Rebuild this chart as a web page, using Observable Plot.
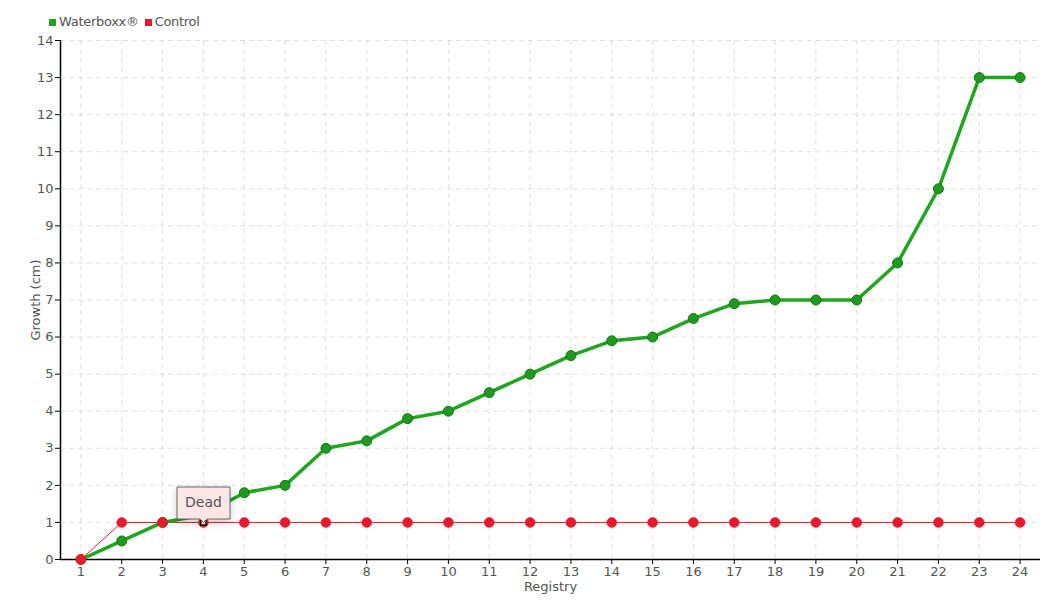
<!DOCTYPE html>
<html><head><meta charset="utf-8">
<script src="https://cdn.jsdelivr.net/npm/d3@7"></script>
<script src="https://cdn.jsdelivr.net/npm/@observablehq/plot@0.6"></script>
<style>
body{margin:0;background:#fff;font-family:"DejaVu Sans",sans-serif;}
#legend{height:32px;display:flex;align-items:center;padding-left:49px;font-size:13px;letter-spacing:-0.3px;color:#555;gap:6px;padding-top:10px;box-sizing:border-box}
#legend span.sw{display:inline-block;width:7px;height:7px;margin-right:3px;vertical-align:middle}
</style></head><body>
<div id="legend"><span><span class="sw" style="background:#1fa01f"></span>Waterboxx®</span><span><span class="sw" style="background:#e8192c"></span>Control</span></div>
<div id="chart"></div>
<script>
const registry = d3.range(1, 25);
const waterboxx = [0,0.5,1,1.2,1.8,2,3,3.2,3.8,4,4.5,5,5.5,5.9,6,6.5,6.9,7,7,7,8,10,13,13];
const control = [0,1,1,1,1,1,1,1,1,1,1,1,1,1,1,1,1,1,1,1,1,1,1,1];
const yTicks = d3.range(0, 15);
const deadAt = [{r:4, v:1, label:"Dead"}];

const wb = registry.map((r,i)=>({r, v:waterboxx[i]}));
const ct = registry.map((r,i)=>({r, v:control[i]}));
const FONT = '"DejaVu Sans",sans-serif';

const chart = Plot.plot({
  width: 1060, height: 568,
  marginLeft: 60, marginRight: 20, marginTop: 8, marginBottom: 41,
  style: {fontFamily: FONT, fontSize: "13px", color: "#555"},
  x: {domain: [0.5, 24.5]},
  y: {domain: [0, 14]},
  marks: [
    Plot.gridX(registry, {stroke: "#ccc", strokeOpacity: 0.6, strokeDasharray: "5,4"}),
    Plot.gridY(yTicks, {stroke: "#ccc", strokeOpacity: 0.6, strokeDasharray: "5,4"}),
    Plot.axisX({ticks: registry, tickFormat: d=>String(d), tickSize: 5, tickPadding: 2, stroke: "#000", label: "Registry", labelAnchor: "center", labelArrow: "none", labelOffset: 31}),
    Plot.axisY({ticks: yTicks, tickFormat: d=>String(d), tickSize: 5, tickPadding: 2, stroke: "#000", label: "Growth (cm)", labelAnchor: "center", labelArrow: "none", labelOffset: 30}),
    Plot.ruleY([0], {stroke: "#000", strokeWidth: 1.5}),
    Plot.ruleX([0.5], {stroke: "#000", strokeWidth: 1.5}),
    Plot.line(ct, {x: "r", y: "v", stroke: "#e8192c", strokeWidth: 1}),
    Plot.line(wb, {x: "r", y: "v", stroke: "#1fa51f", strokeWidth: 3.5}),
    Plot.dot(wb, {x: "r", y: "v", r: 5, fill: "#1f9a1f", stroke: "#17761a", strokeWidth: 1}),
    Plot.dot(ct, {x: "r", y: "v", r: 5, fill: "#e8192c", stroke: "#e8192c", strokeWidth: 0.5}),
    Plot.dot(deadAt, {x: "r", y: "v", symbol: "square", r: 3, fill: "#fff", stroke: "#000", strokeWidth: 1.5}),
    Plot.tip(deadAt, {x: "r", y: "v", title: "label", anchor: "bottom", fill: "#fde6e6", stroke: "#666", fontSize: 14, textPadding: 8, pointerSize: 7})
  ]
});
document.getElementById("chart").append(chart);
</script></body></html>
